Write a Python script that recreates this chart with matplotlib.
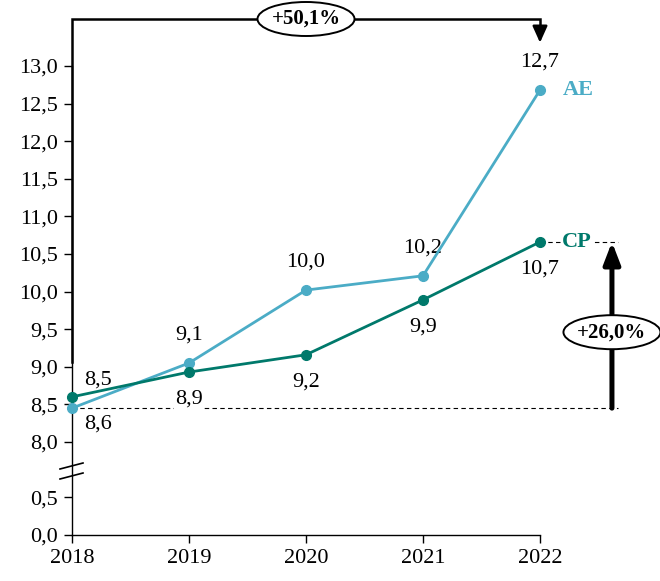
import numpy as np
import matplotlib
matplotlib.use("Agg")
import matplotlib.pyplot as plt
from matplotlib.ticker import FuncFormatter, FixedLocator
from matplotlib.patches import Ellipse
from matplotlib.transforms import ScaledTranslation

# data
years = [2018, 2019, 2020, 2021, 2022]
ae = [8.45, 9.05, 10.02, 10.21, 12.68]
cp = [8.60, 8.93, 9.16, 9.89, 10.66]
ae_labels = ["8,5", "9,1", "10,0", "10,2", "12,7"]
cp_labels = ["8,6", "8,9", "9,2", "9,9", "10,7"]
yticks = [0.0, 0.5, 8.0, 8.5, 9.0, 9.5, 10.0, 10.5, 11.0, 11.5, 12.0, 12.5, 13.0]
growth_ae = "+50,1%"
growth_cp = "+26,0%"

c_ae = "#4BACC6"
c_cp = "#00796B"

plt.rcParams["font.family"] = ["Liberation Serif", "DejaVu Serif"]
plt.rcParams["font.size"] = 16

# broken y axis: squeeze 0.5..8 into a short gap
GAP = 1.237
def fwd(v):
    v = np.asarray(v, dtype=float)
    mid = 0.5 + (v - 0.5) * (GAP - 0.5) / 7.5
    return np.where(v <= 0.5, v, np.where(v < 8, mid, v - 8 + GAP))

def inv(y):
    y = np.asarray(y, dtype=float)
    mid = 0.5 + (y - 0.5) * 7.5 / (GAP - 0.5)
    return np.where(y <= 0.5, y, np.where(y < GAP, mid, y + 8 - GAP))

fig = plt.figure(figsize=(6.6, 5.81), dpi=100)
ax = fig.add_axes([72 / 660, 46 / 581, 468 / 660, 469 / 581])
ax.set_yscale("function", functions=(fwd, inv))
ax.set_xlim(2018, 2022)
ax.set_ylim(0, 13.0)

ax.plot(years, ae, color=c_ae, lw=2, marker="o", ms=7, zorder=4, clip_on=False)
ax.plot(years, cp, color=c_cp, lw=2, marker="o", ms=7, zorder=5, clip_on=False)

# data labels
for i, (x, y) in enumerate(zip(years, ae)):
    dx = 26 if i == 0 else 0
    ax.annotate(ae_labels[i], (x, y), xytext=(dx, 28), textcoords="offset pixels",
                ha="center", va="center", zorder=3)
for i, (x, y) in enumerate(zip(years, cp)):
    dx = 26 if i == 0 else 0
    ax.annotate(cp_labels[i], (x, y), xytext=(dx, -27), textcoords="offset pixels",
                ha="center", va="center", zorder=3,
                bbox=dict(fc="white", ec="none", pad=1))

# series names
ax.annotate("AE", (years[-1], ae[-1]), xytext=(38, 0), textcoords="offset pixels",
            ha="center", va="center", color=c_ae, fontweight="bold", annotation_clip=False)
ax.annotate("CP", (years[-1], cp[-1]), xytext=(37, 0), textcoords="offset pixels",
            ha="center", va="center", color=c_cp, fontweight="bold", annotation_clip=False,
            zorder=3, bbox=dict(fc="white", ec="none", pad=1))

# reference dashed lines
x_arrow = 2022.615
ax.plot([2018, x_arrow + 0.05], [ae[0], ae[0]], color="black", lw=0.8,
        ls=(0, (4, 3)), zorder=1, clip_on=False)
ax.plot([2022, x_arrow + 0.05], [cp[-1], cp[-1]], color="black", lw=0.8,
        ls=(0, (4, 3)), zorder=1, clip_on=False)


def bubble(x, y, txt):
    tr = fig.dpi_scale_trans + ScaledTranslation(x, y, ax.transData)
    e = Ellipse((0, 0), 0.97, 0.34, transform=tr, fc="white", ec="black",
                lw=1.4, zorder=7, clip_on=False)
    ax.add_patch(e)
    ax.text(x, y, txt, ha="center", va="center", fontweight="bold",
            fontsize=15, zorder=8, clip_on=False)


# +26% arrow
ax.annotate("", xy=(x_arrow, cp[-1]), xytext=(x_arrow, ae[0]),
            arrowprops=dict(arrowstyle="-|>,head_length=1.3,head_width=0.5",
                            lw=3.6, color="black", shrinkA=0, shrinkB=0,
                            mutation_scale=10),
            annotation_clip=False, zorder=6)
bubble(x_arrow, 9.46, growth_cp)

# +50,1% bracket
top = 13.625
ax.plot([2018, 2018, 2022, 2022], [9.06, top, top, 13.45], color="black", lw=1.8,
        clip_on=False, zorder=6, solid_joinstyle="miter")
ax.annotate("", xy=(2022, 13.31), xytext=(2022, 13.5),
            arrowprops=dict(arrowstyle="-|>,head_length=1.0,head_width=0.45",
                            lw=1.8, color="black", shrinkA=0, shrinkB=0,
                            mutation_scale=10),
            annotation_clip=False, zorder=6)
bubble(2020, top, growth_ae)

# axes styling
for s in ["top", "right"]:
    ax.spines[s].set_visible(False)
ax.spines["left"].set_linewidth(1)
ax.spines["bottom"].set_linewidth(1)
ax.yaxis.set_major_locator(FixedLocator(yticks))
ax.yaxis.set_minor_locator(FixedLocator([]))
ax.yaxis.set_major_formatter(FuncFormatter(lambda v, p: f"{v:.1f}".replace(".", ",")))
ax.set_xticks(years)
ax.set_xticklabels([str(y) for y in years])
ax.tick_params(axis="both", length=6, width=1, labelsize=16)
ax.tick_params(axis="y", pad=4)
ax.tick_params(axis="x", pad=4)

# break marks on the y axis
for dy in (0, 10):
    fig.add_artist(plt.Line2D([60 / 660, 83 / 660],
                              [1 - (469 + dy) / 581, 1 - (463 + dy) / 581],
                              color="black", lw=1.2))

fig.savefig("out.png", dpi=100)
